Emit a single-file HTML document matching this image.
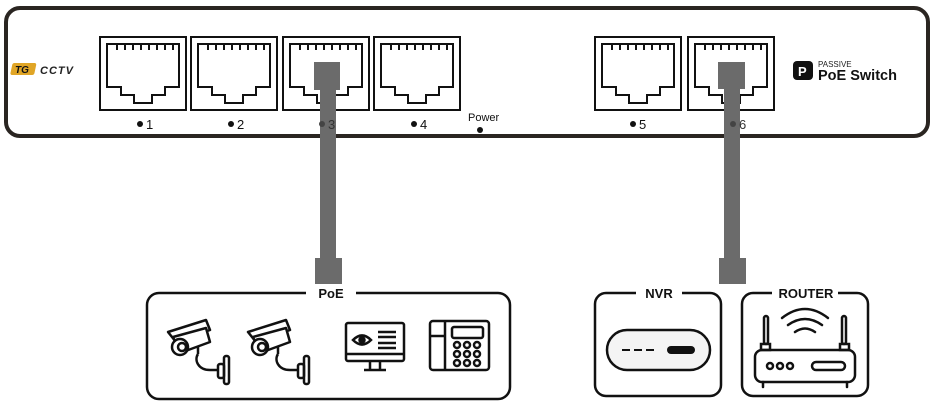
<!DOCTYPE html>
<html><head><style>body{margin:0;background:#fff}svg{display:block}</style></head><body>
<svg width="935" height="406" viewBox="0 0 935 406" xmlns="http://www.w3.org/2000/svg" font-family="Liberation Sans, sans-serif">
<rect x="0" y="0" width="935" height="406" fill="#fff"/>
<rect x="6" y="8" width="922" height="128" rx="14" fill="#fff" stroke="#2a2521" stroke-width="4"/>
<defs>
<g id="rj">
<rect x="0" y="0" width="86" height="73" fill="#fff" stroke="#111" stroke-width="2"/>
<path d="M7 7 H79 V50 H65 V58 H52 V66 H34 V58 H21 V50 H7 Z" fill="none" stroke="#111" stroke-width="2"/>
<path d="M17 7v6M25 7v6M33 7v6M41 7v6M49 7v6M57 7v6M65 7v6M73 7v6" stroke="#111" stroke-width="2"/>
</g>
</defs>
<use href="#rj" x="100" y="37"/>
<use href="#rj" x="191" y="37"/>
<use href="#rj" x="283" y="37"/>
<use href="#rj" x="374" y="37"/>
<use href="#rj" x="595" y="37"/>
<use href="#rj" x="688" y="37"/>
<!-- cables -->
<g fill="#6b6b6b">
<rect x="314" y="62" width="26" height="28"/><rect x="320" y="90" width="16" height="170"/><rect x="315" y="258" width="27" height="26"/>
<rect x="718" y="62" width="27" height="27"/><rect x="724" y="89" width="16" height="171"/><rect x="719" y="258" width="27" height="26"/>
</g>
<g font-size="13" fill="#111">
<circle cx="140" cy="124" r="3"/><text x="146" y="129">1</text>
<circle cx="231" cy="124" r="3"/><text x="237" y="129">2</text>
<circle cx="322" cy="124" r="3" fill="#444"/><text x="328" y="129" fill="#333">3</text>
<circle cx="414" cy="124" r="3"/><text x="420" y="129">4</text>
<circle cx="633" cy="124" r="3"/><text x="639" y="129">5</text>
<circle cx="733" cy="124" r="3" fill="#444"/><text x="739" y="129" fill="#333">6</text>
<text x="468" y="121" font-size="11">Power</text>
<circle cx="480" cy="130" r="3"/>
</g>
<rect x="12" y="63" width="24" height="12" rx="2" fill="#e0a526" transform="skewX(-12) translate(14 0)"/>
<text x="15" y="73" font-size="10" font-weight="bold" font-style="italic" fill="#111">TG</text>
<text x="40" y="74" font-size="11" font-weight="bold" font-style="italic" fill="#222" letter-spacing="1">CCTV</text>
<rect x="793" y="61" width="20" height="19" rx="4" fill="#111"/>
<text x="798" y="76" font-size="13" font-weight="bold" fill="#fff">P</text>
<text x="818" y="67" font-size="8" fill="#222">PASSIVE</text>
<text x="818" y="80" font-size="14.5" font-weight="bold" fill="#111">PoE Switch</text>
<g fill="none" stroke="#111" stroke-width="2.5">
<rect x="147" y="293" width="363" height="106" rx="12"/>
<rect x="595" y="293" width="126" height="103" rx="11"/>
<rect x="742" y="293" width="126" height="103" rx="11"/>
</g>
<g font-weight="bold" font-size="13" fill="#111" text-anchor="middle">
<rect x="306" y="285" width="50" height="16" fill="#fff"/><text x="331" y="298">PoE</text>
<rect x="636" y="285" width="46" height="16" fill="#fff"/><text x="659" y="298">NVR</text>
<rect x="772" y="285" width="66" height="16" fill="#fff"/><text x="806" y="298">ROUTER</text>
</g>
<defs><g id="cam" fill="none" stroke="#111" stroke-width="2.5" stroke-linejoin="round">
<path d="M0 12 L38 0 L42 10 L8 22 Z" fill="#fff"/>
<path d="M5 17 L38 8 L42 22 L12 33 Z" fill="#fff"/>
<circle cx="12" cy="27" r="8" fill="#fff"/><circle cx="14" cy="27" r="4"/>
<path d="M30 26 v8 M30 34 c-4 6 0 16 12 16 h8"/>
<rect x="50" y="44" width="6" height="14" rx="2"/><rect x="56" y="36" width="5" height="28" rx="2"/>
</g></defs>
<use href="#cam" x="168" y="320"/>
<use href="#cam" x="248" y="320"/>
<g fill="none" stroke="#111" stroke-width="2.5">
<rect x="346" y="323" width="58" height="38" rx="2"/><line x1="346" y1="354" x2="404" y2="354"/>
<path d="M370 361v8M380 361v8M364 370h22"/>
<path d="M353 340 q9 -9 18 0 q-9 9 -18 0z"/><circle cx="362" cy="340" r="2.5" fill="#111"/>
<path d="M378 332h18M378 337h18M378 343h18M378 348h18"/>
</g>
<g fill="none" stroke="#111" stroke-width="2.5">
<rect x="430" y="321" width="59" height="49" rx="3"/><line x1="445" y1="321" x2="445" y2="370"/>
<line x1="430" y1="336" x2="445" y2="336"/>
<rect x="452" y="327" width="31" height="11" rx="2"/>
<circle cx="457" cy="345" r="3"/><circle cx="467" cy="345" r="3"/><circle cx="477" cy="345" r="3"/>
<circle cx="457" cy="354" r="3"/><circle cx="467" cy="354" r="3"/><circle cx="477" cy="354" r="3"/>
<circle cx="457" cy="363" r="3"/><circle cx="467" cy="363" r="3"/><circle cx="477" cy="363" r="3"/>
</g>
<rect x="607" y="330" width="103" height="40" rx="20" fill="#f4f4f4" stroke="#111" stroke-width="2.5"/>
<path d="M622 350h8M634 350h8M646 350h8" stroke="#111" stroke-width="2"/>
<rect x="667" y="346" width="28" height="8" rx="4" fill="#111"/>
<g fill="none" stroke="#111" stroke-width="2.5" stroke-linecap="round">
<rect x="755" y="350" width="100" height="32" rx="7"/>
<rect x="764" y="316" width="4" height="28" rx="2"/><rect x="842" y="316" width="4" height="28" rx="2"/>
<rect x="761" y="344" width="9" height="6"/><rect x="840" y="344" width="9" height="6"/>
<path d="M763 382v5M847 382v5"/>
<circle cx="770" cy="366" r="3"/><circle cx="780" cy="366" r="3"/><circle cx="790" cy="366" r="3"/>
<rect x="812" y="362" width="33" height="8" rx="4"/>
<path d="M782 318 q23 -18 46 0 M788 325 q17 -12 34 0 M795 332 q10 -7 20 0"/>
</g>
</svg>
</body></html>
